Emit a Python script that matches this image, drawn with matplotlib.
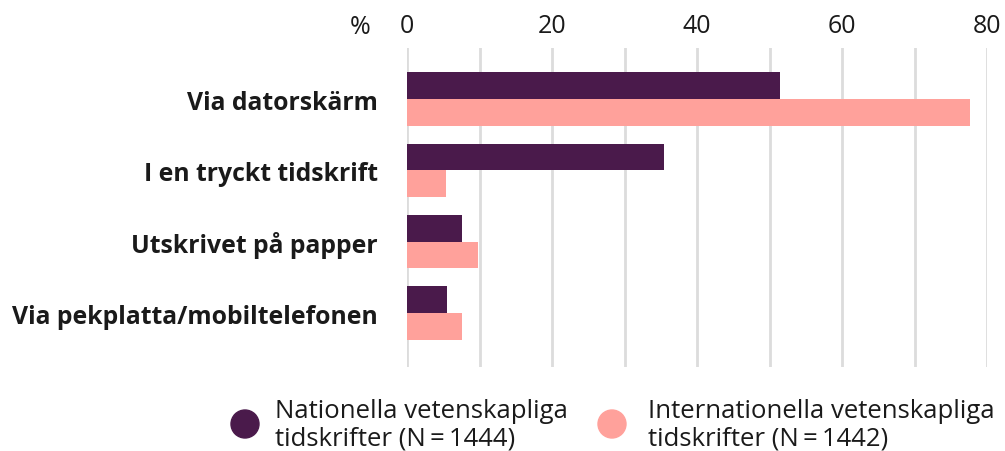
import matplotlib
matplotlib.use("Agg")
import matplotlib.pyplot as plt
import matplotlib.patches as mpatches
import numpy as np

categories = ["Via datorskärm", "I en tryckt tidskrift", "Utskrivet på papper",
              "Via pekplatta/mobiltelefonen"]
nationella = [51.5, 35.4, 7.6, 5.5]
internationella = [77.6, 5.4, 9.8, 7.6]
series_labels = ["Nationella vetenskapliga\ntidskrifter (N\u2009=\u20091444)",
                 "Internationella vetenskapliga\ntidskrifter (N\u2009=\u20091442)"]
colors = ["#4a1a4b", "#ffa19b"]
major_ticks = [0, 20, 40, 60, 80]

plt.rcParams["font.family"] = ["Open Sans", "DejaVu Sans"]

W, H = 1005, 452
fig = plt.figure(figsize=(W / 100, H / 100), dpi=100)
ax = fig.add_axes([407 / W, 1 - 368 / H, (987 - 407) / W, (368 - 49) / H])

y = np.arange(len(categories))
h = 0.375
ax.barh(y - h / 2, nationella, height=h, color=colors[0], zorder=3)
ax.barh(y + h / 2, internationella, height=h, color=colors[1], zorder=3)

ax.set_xlim(0, 80)
ax.set_ylim(3.757, -0.715)
ax.set_xticks(np.arange(0, 81, 10))
ax.set_xticklabels([str(t) if t in major_ticks else "" for t in range(0, 81, 10)])
ax.xaxis.tick_top()
ax.tick_params(axis="x", length=0, pad=7, labelsize=18, labelcolor="#1a1a1a")
ax.grid(axis="x", color="#dcdcdc", linewidth=2, zorder=0)
ax.set_yticks(y)
ax.set_yticklabels(categories, fontsize=17.8, fontweight="bold", color="#1a1a1a")
ax.tick_params(axis="y", length=0, pad=21)
for s in ax.spines.values():
    s.set_visible(False)

fig.text(360 / W, 1 - 27 / H, "%", fontsize=18, color="#1a1a1a",
         ha="center", va="center")

# legend: filled circles with two-line labels
for cx, tx, col, lab in [(245, 275, colors[0], series_labels[0]),
                         (612, 648, colors[1], series_labels[1])]:
    fig.patches.append(mpatches.Ellipse(
        (cx / W, 1 - 425 / H), 28 / W, 28 / H,
        transform=fig.transFigure, color=col))
    fig.text(tx / W, 1 - 425 / H, lab, fontsize=18.5, color="#1a1a1a",
             ha="left", va="center", linespacing=1.12)

fig.savefig("out.png", dpi=100)
